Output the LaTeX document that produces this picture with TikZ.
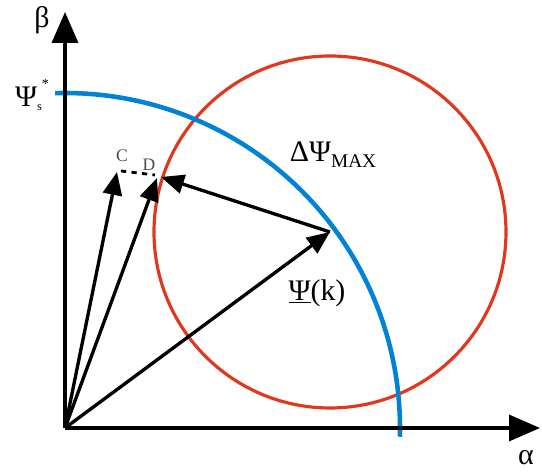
\documentclass[tikz,border=0pt]{standalone}
\usepackage{fontspec}
\setmainfont{Liberation Serif}
\usepackage{xcolor}
\usetikzlibrary{arrows.meta,positioning,calc}
\definecolor{arcblue}{RGB}{0,130,215}
\definecolor{circred}{RGB}{225,55,30}

\begin{document}
\begin{tikzpicture}[x=0.02cm, y=0.02cm,
    axis/.style={line width=2pt, -{Triangle[length=0.62cm, width=0.52cm]}},
    vec/.style={line width=1.9pt, -{Triangle[length=0.46cm, width=0.38cm]}},
    lbl/.style={inner sep=0pt, font=\fontsize{17}{20}\selectfont},
    small/.style={inner sep=0pt, font=\fontsize{10}{12}\selectfont, text=black!70}
]
\useasboundingbox (-65,-44) rectangle (477,428);

% points
\coordinate (O) at (0,0);
\coordinate (K) at (265,196);
\coordinate (C) at (52,256);
\coordinate (D) at (92,250);
\coordinate (xend) at (475,0);
\coordinate (yend) at (0,416);

% circles
\draw[circred, line width=1.8pt] (K) circle[radius=176];
\draw[arcblue, line width=2.6pt] (91.7:335) arc[start angle=91.7, end angle=-1.5, radius=335];

% axes
\draw[axis] (O) -- (xend);
\draw[axis] (O) -- (yend);

% vectors
\draw[vec] (O) -- (K);
\draw[vec] (O) -- (C);
\draw[vec] (O) -- (D);
\draw[vec] (K) -- ($(D)+(4,1)$);
\draw[line width=1.6pt, dashed] ($(C)+(4,1)$) -- ($(D)+(-2,3)$);

% labels
\node[lbl] (beta) at (-23,408) {β};
\node[lbl] (alpha) at (461,-30) {α};
\node[lbl] (psis) at (-33,333) {Ψ\raisebox{-0.35ex}{\fontsize{7}{8}\selectfont s}\raisebox{1.3ex}{\fontsize{8}{9}\selectfont *}};
\node[small] (clbl) at (57,272) {C};
\node[small] (dlbl) at (84,263) {D};
\node[lbl] (dmax) at (268,273) {ΔΨ\raisebox{-0.45ex}{\fontsize{11}{13}\selectfont MAX}};
\node[lbl] (psik) at (252,135) {\underline{Ψ}(k)};
\end{tikzpicture}
\end{document}
